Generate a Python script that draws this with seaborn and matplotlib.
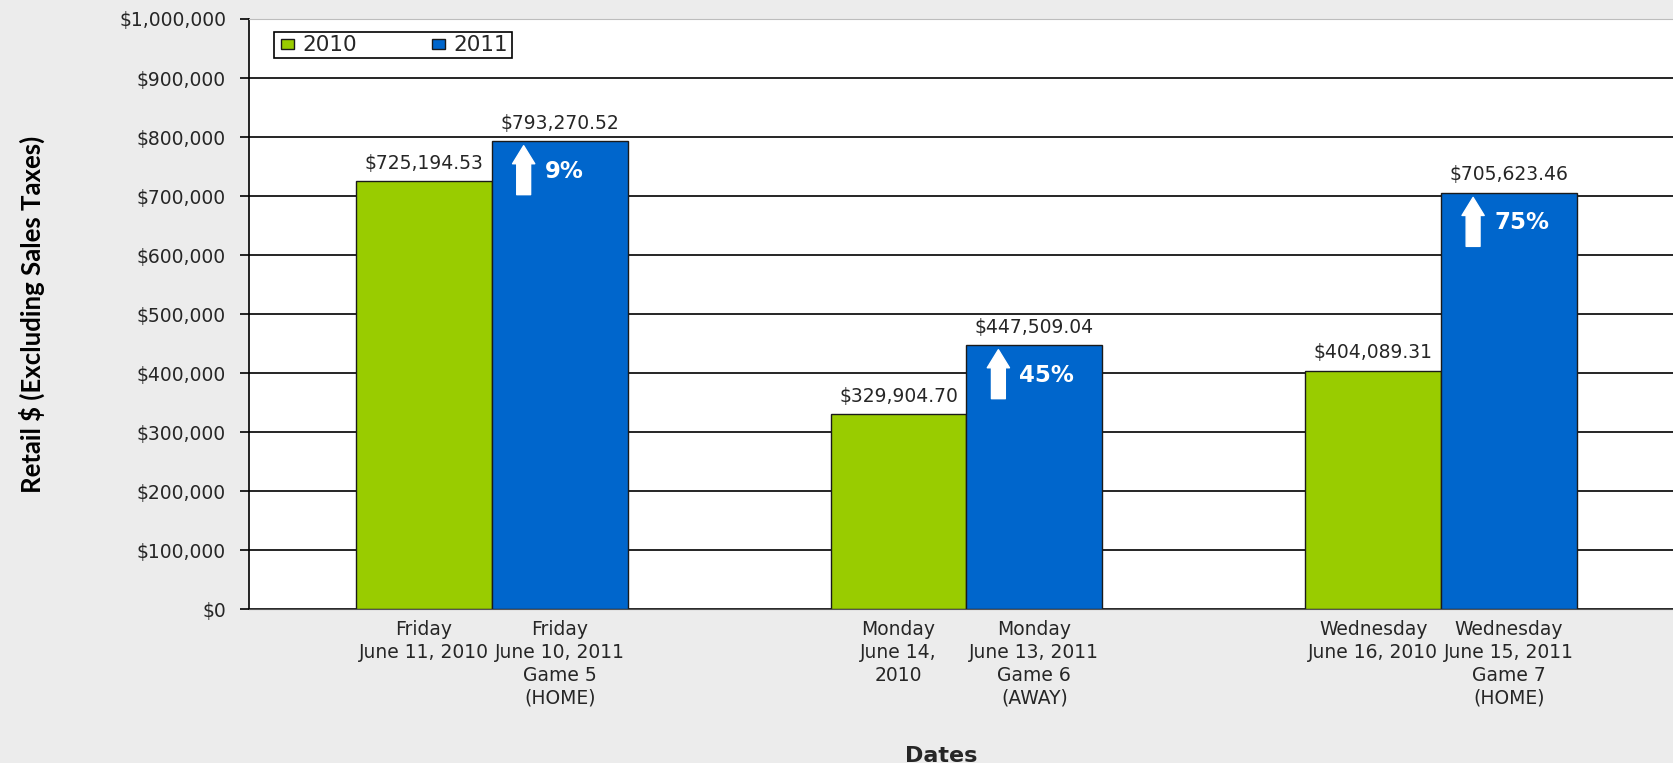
import matplotlib
matplotlib.use("Agg")
import matplotlib.pyplot as plt
import matplotlib.ticker as mticker
import matplotlib.patches as mpatches
from matplotlib.legend_handler import HandlerPatch
import pandas as pd
import seaborn as sns

# --- Data ---
games = ["Game 5", "Game 6", "Game 7"]
years = ["2010", "2011"]
sales_2010 = [725194.53, 329904.70, 404089.31]
sales_2011 = [793270.52, 447509.04, 705623.46]
increase_pct = ["9%", "45%", "75%"]
labels_2010 = ["Friday\nJune 11, 2010",
               "Monday\nJune 14,\n2010",
               "Wednesday\nJune 16, 2010"]
labels_2011 = ["Friday\nJune 10, 2011\nGame 5\n(HOME)",
               "Monday\nJune 13, 2011\nGame 6\n(AWAY)",
               "Wednesday\nJune 15, 2011\nGame 7\n(HOME)"]
y_ticks = list(range(0, 1_000_001, 100_000))

# --- Styling ---
GREEN = "#99cc00"
BLUE = "#0066cc"
TEXT = "#262626"
BG = "#ececec"

df = pd.DataFrame({
    "game": games * 2,
    "year": [years[0]] * len(games) + [years[1]] * len(games),
    "sales": sales_2010 + sales_2011,
})

sns.set_style("white")
plt.rcParams["font.family"] = ["DejaVu Sans"]

fig = plt.figure(figsize=(16.73, 7.63), dpi=100, facecolor=BG)
ax = fig.add_axes([0.1488, 0.2018, 0.8512, 0.7733])
ax.set_facecolor("white")

sns.barplot(
    data=df, x="game", y="sales", hue="year",
    palette={"2010": GREEN, "2011": BLUE},
    width=0.572, gap=0, saturation=1, errorbar=None,
    edgecolor="#1a1a1a", linewidth=1.0, legend=False, ax=ax,
)

ax.set_xlim(-0.5115, 2.4883)
ax.set_ylim(0, 1_000_000)
ax.set_yticks(y_ticks)
ax.yaxis.set_major_formatter(mticker.FuncFormatter(lambda v, pos: f"${v:,.0f}"))
ax.grid(axis="y", color="black", linewidth=1.2)
ax.yaxis.get_gridlines()[-1].set_visible(False)
ax.set_axisbelow(True)

ax.spines["right"].set_visible(False)
ax.spines["top"].set_color("#bdbdbd")
ax.spines["top"].set_linewidth(0.8)
ax.spines["left"].set_color("black")
ax.spines["left"].set_linewidth(1.2)
ax.spines["bottom"].set_color("#555555")

ax.tick_params(axis="y", direction="out", length=6.5, width=1.2, color="black",
               pad=10, labelsize=13.5, labelcolor=TEXT, left=True)

# one tick label under every bar
c2010, c2011 = ax.containers[0], ax.containers[1]
positions, names = [], []
for bars, labels in [(c2010, labels_2010), (c2011, labels_2011)]:
    for bar, lab in zip(bars, labels):
        positions.append(bar.get_x() + bar.get_width() / 2)
        names.append(lab)
ax.set_xticks(positions, names)
ax.tick_params(axis="x", length=0, pad=8, labelsize=13.5, labelcolor=TEXT)
for t in ax.get_xticklabels():
    t.set_linespacing(1.25)
    t.set_verticalalignment("top")

# value labels
ax.bar_label(c2010, labels=[f"${v:,.2f}" for v in sales_2010], padding=6,
             fontsize=13.5, color=TEXT)
ax.bar_label(c2011, labels=[f"${v:,.2f}" for v in sales_2011], padding=6,
             fontsize=13.5, color=TEXT)

# white arrows + growth percentage inside the 2011 bars
for bar, pct in zip(c2011, increase_pct):
    x0, w, top = bar.get_x(), bar.get_width(), bar.get_height()
    ax.annotate("", xy=(x0 + 0.235 * w, top - 8000), xytext=(x0 + 0.235 * w, top - 91000),
                arrowprops=dict(arrowstyle="simple,head_length=1.3,head_width=1.6,tail_width=1.0",
                                fc="white", ec="white", mutation_scale=10,
                                shrinkA=0, shrinkB=0))
    ax.text(x0 + 0.39 * w, top - 51000, pct, color="white", fontsize=16.5,
            fontweight="bold", ha="left", va="center")


# legend: small flat swatch at the right end of each handle box
def flat_swatch(legend, orig_handle, xdescent, ydescent, width, height, fontsize):
    sw, sh = 9.2, 7.0
    return mpatches.Rectangle((width - xdescent - sw, -ydescent + (height - sh) / 2), sw, sh)


leg = ax.legend(handles=[c2010.patches[0], c2011.patches[0]], labels=years,
                loc="upper left", bbox_to_anchor=(0.0176, 0.978), ncol=2,
                fontsize=15.5, frameon=True, fancybox=False, framealpha=1,
                edgecolor="black", borderaxespad=0, handlelength=0.78,
                handleheight=0.7, handletextpad=0.4, columnspacing=3.3,
                borderpad=0.15,
                handler_map={mpatches.Rectangle: HandlerPatch(patch_func=flat_swatch)})
leg.get_frame().set_linewidth(1.2)
for txt in leg.get_texts():
    txt.set_color(TEXT)

ax.set_ylabel("Retail $ (Excluding Sales Taxes)", fontsize=18.5, fontweight="bold",
              family=["Lato", "DejaVu Sans"], color="black")
ax.yaxis.set_label_coords(-0.143, 0.5)
ax.set_xlabel("Dates", fontsize=16, fontweight="bold", color=TEXT)
ax.xaxis.set_label_coords(0.486, -0.232)

plt.savefig("out.png", dpi=100, facecolor=BG)
